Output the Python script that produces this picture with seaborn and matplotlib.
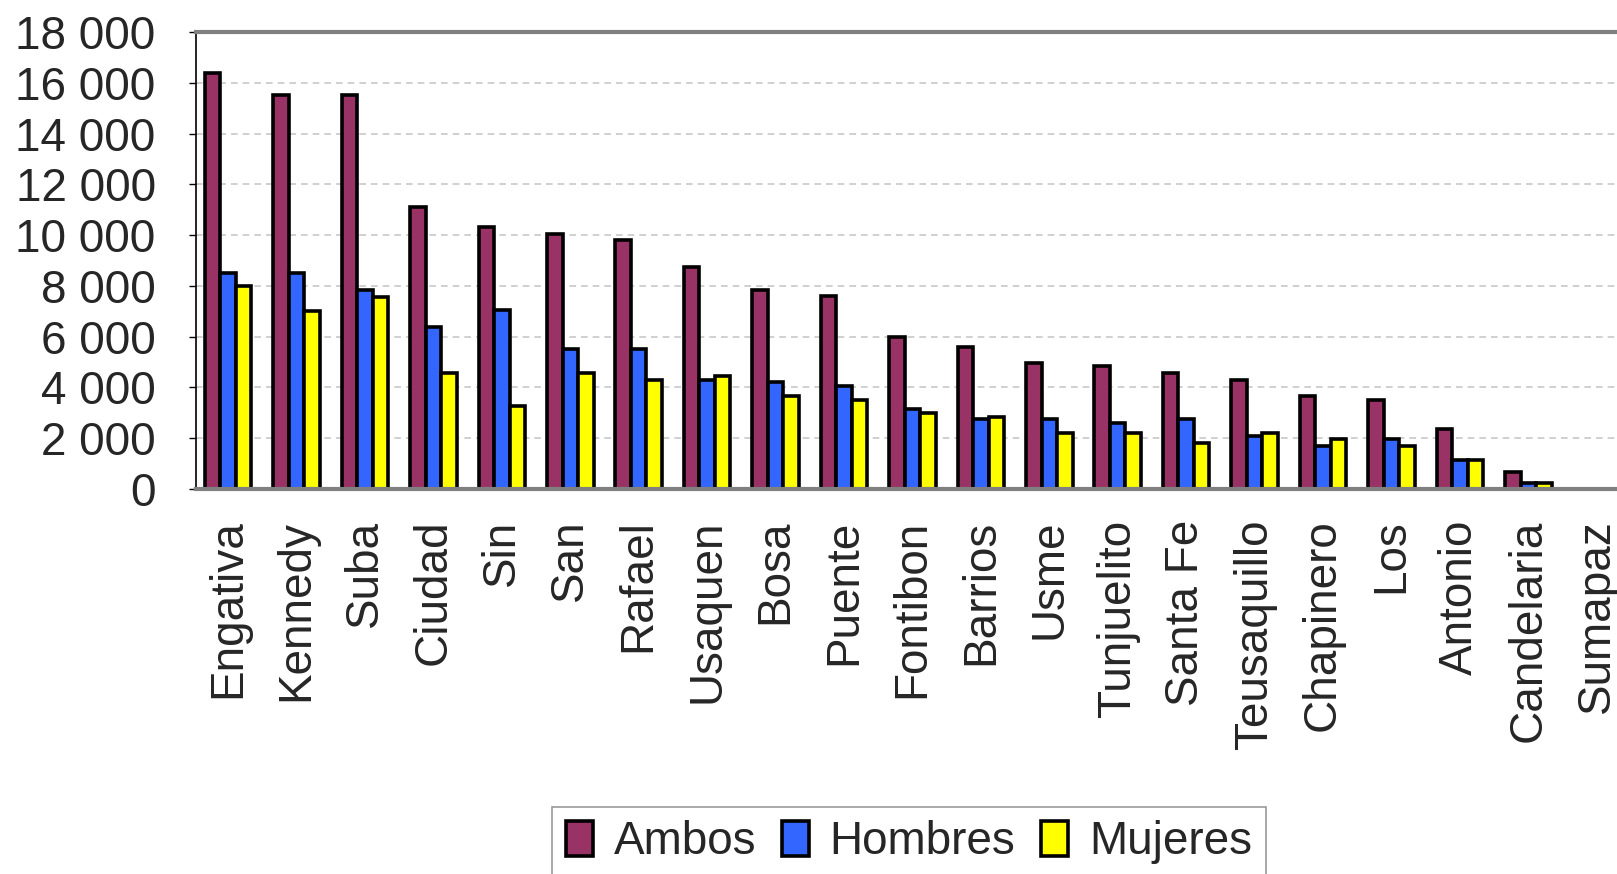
import numpy as np
import pandas as pd
import matplotlib
matplotlib.use("Agg")
import matplotlib.pyplot as plt
import matplotlib.patches as mpatches
from matplotlib.ticker import FuncFormatter
import seaborn as sns

# --- datos ---
distritos = ["Engativa", "Kennedy", "Suba", "Ciudad", "Sin", "San", "Rafael",
             "Usaquen", "Bosa", "Puente", "Fontibon", "Barrios", "Usme",
             "Tunjuelito", "Santa Fe", "Teusaquillo", "Chapinero", "Los",
             "Antonio", "Candelaria", "Sumapaz"]
ambos = [16400, 15500, 15500, 11100, 10300, 10050, 9800, 8750, 7850, 7600,
         6000, 5600, 4950, 4850, 4550, 4300, 3650, 3500, 2350, 650, 0]
hombres = [8500, 8500, 7850, 6400, 7050, 5500, 5500, 4300, 4200, 4050,
           3150, 2750, 2750, 2600, 2750, 2100, 1700, 1950, 1150, 250, 0]
mujeres = [8000, 7000, 7550, 4550, 3250, 4550, 4300, 4450, 3650, 3500,
           3000, 2850, 2200, 2200, 1800, 2200, 1950, 1700, 1150, 250, 0]
series = ["Ambos", "Hombres", "Mujeres"]
colores = {"Ambos": "#993366", "Hombres": "#3366FF", "Mujeres": "#FFFF00"}
yticks = np.arange(0, 18001, 2000)

df = pd.DataFrame({"Distrito": distritos, "Ambos": ambos,
                   "Hombres": hombres, "Mujeres": mujeres})
df_long = df.melt(id_vars="Distrito", var_name="Sexo", value_name="Casos")

sns.set_style("white")
plt.rcParams["font.family"] = ["Liberation Sans", "DejaVu Sans"]

fig = plt.figure(figsize=(16.17, 8.74), dpi=100)
ax = fig.add_axes([0.1212, 0.4405, 0.8887, 0.5229])

sns.barplot(data=df_long, x="Distrito", y="Casos", hue="Sexo",
            hue_order=series, order=distritos, palette=colores,
            saturation=1, width=0.68, edgecolor="black", linewidth=2.6,
            legend=False, ax=ax)

ax.set_xlim(-0.47, len(distritos) - 0.47)
ax.set_ylim(0, 18000)
ax.set_yticks(yticks)
ax.yaxis.set_major_formatter(FuncFormatter(lambda v, p: f"{int(v):,}".replace(",", " ")))
ax.set_xlabel("")
ax.set_ylabel("")

ax.set_axisbelow(True)
ax.yaxis.grid(True, color="#c8c8c8", linestyle=(0, (4, 3)), linewidth=1.2)

ax.tick_params(axis="y", labelsize=33, length=5, width=1, pad=24,
               left=True, color="black")
ax.tick_params(axis="x", labelsize=33, length=0, pad=22, labelrotation=90)
for lab in ax.get_xticklabels():
    lab.set_va("top")
    lab.set_ha("center")

ax.spines["left"].set_color("black")
ax.spines["left"].set_linewidth(1.2)
ax.spines["bottom"].set_color("#808080")
ax.spines["bottom"].set_linewidth(3)
ax.spines["top"].set_color("#808080")
ax.spines["top"].set_linewidth(3)
ax.spines["right"].set_visible(False)

handles = [mpatches.Patch(facecolor=colores[s], edgecolor="black", linewidth=2.6, label=s)
           for s in series]
leg = fig.legend(handles=handles, loc="upper center", ncol=3,
                 bbox_to_anchor=(0.562, 0.077), bbox_transform=fig.transFigure,
                 fontsize=33, frameon=True, fancybox=False,
                 handlelength=0.6, handleheight=0.8, handletextpad=0.45,
                 columnspacing=0.55, borderpad=0.3, borderaxespad=0)
leg.get_frame().set_edgecolor("#808080")
leg.get_frame().set_linewidth(1.2)

fig.savefig("out.png", dpi=100)
